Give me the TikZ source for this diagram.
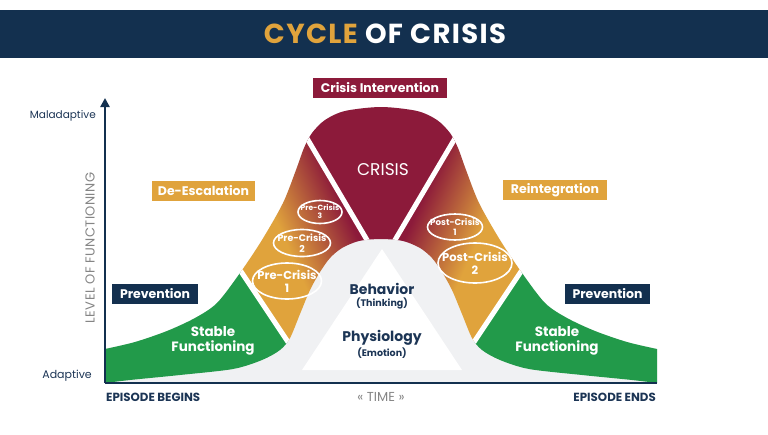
\documentclass[tikz,border=0pt]{standalone}
\usepackage{fontspec}
\setmainfont{Poppins}
\newfontfamily\titlefont[LetterSpace=5]{Poppins}
\newfontfamily\axisfont[LetterSpace=3]{Poppins}
\usetikzlibrary{shapes.geometric,arrows.meta}
\definecolor{cnavy}{HTML}{13304F}
\definecolor{ctext}{HTML}{1C3555}
\definecolor{cgold}{HTML}{E0A33C}
\definecolor{cmaroon}{HTML}{8C1A3A}
\definecolor{cgreen}{HTML}{229A4A}
\definecolor{cgrey}{HTML}{F0F1F3}
\definecolor{cgtext}{HTML}{858585}
\pgfdeclareverticalshading{goldmaroon}{100bp}{color(0bp)=(cgold); color(45bp)=(cgold); color(55bp)=(cmaroon); color(100bp)=(cmaroon)}
\def\outerpts{(105,349) (135,342) (167,331) (195,318) (217,303) (240,273) (262,240) (283,203) (296,170) (304,148) (312,133) (325,120) (345,111) (381,107) (417,111) (437,120) (450,133) (458,148) (466,170) (479,203) (500,240) (522,273) (545,303) (567,318) (595,331) (627,342) (657,349)}
\def\innerpts{(657,383) (632,380) (582,375) (529,369) (500,360) (482,350) (472,338) (462,314) (452,290) (442,272) (432,258) (420,248) (403,241) (381,239) (359,241) (342,248) (330,258) (320,272) (310,290) (300,314) (290,338) (280,350) (262,360) (233,369) (180,375) (130,380) (105,383)}
\begin{document}
\begin{tikzpicture}[x=1pt,y=-1pt,
  boxlab/.style={font=\bfseries\fontsize{12.5}{14}\selectfont, text=white, inner sep=0pt, minimum height=20pt, anchor=center},
  ell/.style={ellipse, draw=white, line width=1.6pt, inner sep=0pt},
  elltext/.style={text=white, font=\bfseries, align=center, inner sep=0pt},
  seg/.style={line width=5pt, draw=white}]
\useasboundingbox (0,0) rectangle (768,434);
\fill[white] (0,0) rectangle (768,434);
% title bar
\fill[cnavy] (0,10) rectangle (768,58);
\node[text=white, font=\titlefont\bfseries\fontsize{27.5}{30}\selectfont, inner sep=0pt] (title) at (385,34) {\textcolor{cgold}{CYCLE} OF CRISIS};
% grey area under the curve
\fill[cgrey] plot[smooth] coordinates {\outerpts} -- (657,383) -- (105,383) -- cycle;
% green left
\begin{scope}
\clip (0,0) -- (60,0) -- (340,420) -- (0,420) -- cycle;
\fill[cgreen] plot[smooth] coordinates {\outerpts} -- plot[smooth] coordinates {\innerpts} -- cycle;
\end{scope}
% green right
\begin{scope}
\clip (768,0) -- (702,0) -- (422,420) -- (768,420) -- cycle;
\fill[cgreen] plot[smooth] coordinates {\outerpts} -- plot[smooth] coordinates {\innerpts} -- cycle;
\end{scope}
% crisis
\begin{scope}
\clip (225,0) -- (381,264) -- (537,0) -- cycle;
\fill[cmaroon] plot[smooth] coordinates {\outerpts} -- plot[smooth] coordinates {\innerpts} -- cycle;
\end{scope}
% left orange
\begin{scope}
\clip (60,0) -- (225,0) -- (381,264) -- (381,420) -- (340,420) -- cycle;
\clip plot[smooth] coordinates {\outerpts} -- plot[smooth] coordinates {\innerpts} -- cycle;
\shade[shading=goldmaroon, shading angle=-66] (147,60) rectangle (487,400);
\end{scope}
% right orange
\begin{scope}
\clip (702,0) -- (537,0) -- (381,264) -- (381,420) -- (422,420) -- cycle;
\clip plot[smooth] coordinates {\outerpts} -- plot[smooth] coordinates {\innerpts} -- cycle;
\shade[shading=goldmaroon, shading angle=66] (275,60) rectangle (615,400);
\end{scope}
% separators
\begin{scope}
\clip plot[smooth] coordinates {\outerpts} -- plot[smooth] coordinates {\innerpts} -- cycle;
\draw[seg] (220,240) -- (300,360);
\draw[seg] (295,118) -- (380,262);
\draw[seg] (542,240) -- (462,360);
\draw[seg] (467,118) -- (382,262);
\end{scope}
% white triangle
\fill[white] (382,249) -- (302,370) -- (462,370) -- cycle;
% axes
\coordinate (origin) at (105,383);
\coordinate (ytop) at (105,98);
\coordinate (xend) at (657,383);
\draw[cnavy, line width=2.4pt, -{Triangle[length=9pt,width=9pt]}] (origin) -- (ytop);
\draw[cnavy, line width=2.4pt] (origin) -- (xend);
% axis labels
\node[text=ctext, font=\fontsize{10.5}{12}\selectfont, anchor=east, inner sep=0pt] (mal) at (96,116) {Maladaptive};
\node[text=ctext, font=\fontsize{11}{13}\selectfont, anchor=east, inner sep=0pt] (ada) at (92,376) {Adaptive};
\node[text=cgtext, font=\axisfont\fontsize{13}{14}\selectfont, rotate=90, inner sep=0pt] (lof) at (90,248) {LEVEL OF FUNCTIONING};
\node[text=ctext, font=\bfseries\fontsize{11.8}{13}\selectfont, anchor=west, inner sep=0pt] (eb) at (106,397) {EPISODE BEGINS};
\node[text=cgtext, font=\fontsize{13}{14}\selectfont, inner sep=0pt] (time) at (381,397) {« TIME »};
\node[text=ctext, font=\bfseries\fontsize{11.8}{13}\selectfont, anchor=east, inner sep=0pt] (ee) at (656,397) {EPISODE ENDS};
% boxes
\node[boxlab, fill=cmaroon, minimum width=134pt] (ci) at (380,88) {Crisis Intervention};
\node[boxlab, fill=cgold, minimum width=103pt] (de) at (203.5,190.5) {De-Escalation};
\node[boxlab, fill=cgold, minimum width=104pt] (re) at (555,190) {Reintegration};
\node[boxlab, fill=cnavy, minimum width=86pt] (pl) at (155,294) {Prevention};
\node[boxlab, fill=cnavy, minimum width=85pt] (pr) at (607.5,294) {Prevention};
% texts in band
\node[text=white, font=\fontsize{17}{20}\selectfont, inner sep=0pt] (crisis) at (383,170) {CRISIS};
\node[text=white, font=\bfseries\fontsize{13.5}{15}\selectfont, align=center, inner sep=0pt] (sfl) at (213,341) {Stable\\Functioning};
\node[text=white, font=\bfseries\fontsize{13.5}{15}\selectfont, align=center, inner sep=0pt] (sfr) at (557,341) {Stable\\Functioning};
% center texts
\node[text=ctext, font=\bfseries\fontsize{14}{16}\selectfont, inner sep=0pt] (beh) at (382,289) {Behavior};
\node[text=ctext, font=\bfseries\fontsize{9.5}{11}\selectfont, inner sep=0pt] (thk) at (382,303) {(Thinking)};
\node[text=ctext, font=\bfseries\fontsize{14}{16}\selectfont, inner sep=0pt] (phy) at (382,338) {Physiology};
\node[text=ctext, font=\bfseries\fontsize{9.5}{11}\selectfont, inner sep=0pt] (emo) at (382,353) {(Emotion)};
% ellipses
\node[ell, minimum width=44pt, minimum height=23pt] (pc3) at (320,212) {};
\node[elltext, font=\bfseries\fontsize{7.5}{8}\selectfont] (pc3t) at (pc3.center) {Pre-Crisis\\3};
\node[ell, minimum width=57pt, minimum height=27pt] (pc2) at (302,243) {};
\node[elltext, font=\bfseries\fontsize{9.5}{10.5}\selectfont] (pc2t) at (pc2.center) {Pre-Crisis\\2};
\node[ell, minimum width=69pt, minimum height=36pt] (pc1) at (287,281) {};
\node[elltext, font=\bfseries\fontsize{11.5}{13}\selectfont] (pc1t) at (pc1.center) {Pre-Crisis\\1};
\node[ell, minimum width=55pt, minimum height=26pt] (po1) at (455,227) {};
\node[elltext, font=\bfseries\fontsize{8.7}{9.5}\selectfont] (po1t) at (po1.center) {Post-Crisis\\1};
\node[ell, minimum width=74pt, minimum height=40pt] (po2) at (475,263) {};
\node[elltext, font=\bfseries\fontsize{11.5}{13}\selectfont] (po2t) at (po2.center) {Post-Crisis\\2};
\end{tikzpicture}
\end{document}
